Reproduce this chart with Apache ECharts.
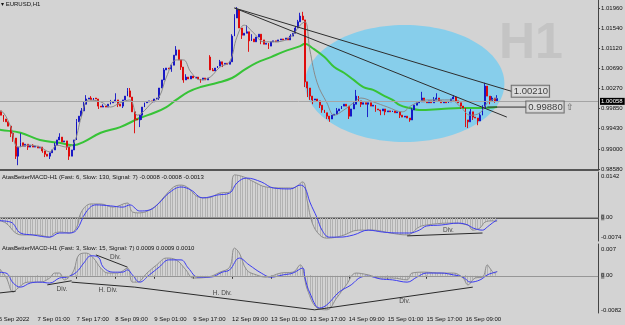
<!DOCTYPE html>
<html>
<head>
<meta charset="utf-8">
<script src="https://cdn.jsdelivr.net/npm/echarts@6/dist/echarts.min.js"></script>
<style>
  html, body { margin: 0; padding: 0; background: #d3d3d3; }
  #chart { width: 625px; height: 325px; }
</style>
</head>
<body>
<div id="chart"></div>
<script>
// EURUSD H1, 6 Sep - 16 Sep 2022, with two AtasBetterMACD panes

const SLOTS = 248; // bar slots on the time axis (empty space right of last bar)
const tickIdx = [1, 17, 33, 49, 65, 81, 97, 113, 129, 145, 161, 177, 193];
const tickText = ['6 Sep 2022', '7 Sep 01:00', '7 Sep 17:00', '8 Sep 09:00', '9 Sep 01:00', '9 Sep 17:00',
  '12 Sep 09:00', '13 Sep 01:00', '13 Sep 17:00', '14 Sep 09:00', '15 Sep 01:00', '15 Sep 17:00', '16 Sep 09:00'];

// closes in pips (price * 10000), one per hourly bar
const closePips = [
  9973, 9980, 9971, 9963, 9957, 9948, 9933, 9923, 9885, 9904,
  9913, 9906, 9910, 9904, 9908, 9904, 9906, 9902, 9904, 9896,
  9889, 9885, 9892, 9898, 9908, 9919, 9925, 9915, 9917, 9904,
  9885, 9898, 9919, 9957, 9969, 9980, 9994, 10005, 10007, 10003,
  10007, 10005, 9990, 9988, 9990, 9988, 9994, 9997, 9999, 10003,
  9994, 9990, 10003, 10011, 10022, 10009, 9978, 9963, 9961, 9971,
  9988, 9997, 9999, 10001, 9999, 10005, 10007, 10028, 10045, 10066,
  10070, 10068, 10076, 10097, 10108, 10087, 10072, 10045, 10051, 10047,
  10053, 10049, 10051, 10047, 10045, 10049, 10045, 10049, 10066, 10064,
  10070, 10074, 10083, 10078, 10080, 10078, 10083, 10137, 10175, 10192,
  10154, 10139, 10143, 10146, 10127, 10131, 10125, 10135, 10141, 10129,
  10120, 10122, 10116, 10125, 10127, 10125, 10129, 10131, 10129, 10133,
  10129, 10137, 10143, 10154, 10167, 10179, 10171, 10041, 10028, 10011,
  10003, 10005, 10001, 9992, 9982, 9976, 9969, 9963, 9971, 9973,
  9980, 9984, 9990, 9994, 9990, 9969, 9984, 9994, 10011, 10001,
  9994, 9997, 9994, 9997, 9990, 9992, 9984, 9982, 9980, 9984,
  9978, 9980, 9978, 9980, 9976, 9978, 9971, 9967, 9969, 9965,
  9961, 9982, 9992, 9997, 9999, 10007, 9999, 9997, 10001, 9997,
  10003, 10007, 10001, 9997, 9999, 9997, 9999, 10005, 10009, 10001,
  9997, 9990, 9986, 9961, 9957, 9978, 9967, 9965, 9959, 9971,
  9986, 10032, 10011, 10001, 10007, 10001, 10005.8
];
// opens follow the previous close except these bars (first bar, Monday gap)
const openFix = [[0, 9978], [88, 10093]];
// visible wicks [bar, pips]
const highFix = [[1, 9986], [10, 9933], [11, 9913], [15, 9910], [24, 9913], [26, 9933], [27, 9925], [33, 9963],
  [35, 9986], [36, 9999], [37, 10013], [39, 10011], [44, 9994], [47, 10003], [49, 10017], [54, 10028],
  [55, 10028], [69, 10070], [74, 10116], [75, 10108], [78, 10057], [81, 10053], [88, 10097], [89, 10070],
  [92, 10087], [97, 10141], [98, 10183], [99, 10198], [103, 10160], [105, 10141], [121, 10141],
  [123, 10158], [124, 10171], [125, 10186], [126, 10188], [140, 9986], [147, 9999], [148, 10024],
  [149, 10011], [171, 9986], [175, 10020], [176, 10005], [180, 10009], [181, 10017], [188, 10013],
  [189, 10007], [195, 9984], [199, 9976], [200, 9992], [201, 10039], [202, 10030], [204, 10011], [206, 10013]];
const lowFix = [[3, 9957], [6, 9925], [7, 9915], [8, 9879], [9, 9866], [13, 9898], [19, 9892], [20, 9883],
  [22, 9879], [29, 9898], [30, 9877], [42, 9984], [50, 9988], [52, 9986], [57, 9933], [59, 9946],
  [60, 9961], [67, 10003], [72, 10062], [76, 10066], [77, 10039], [84, 10039], [93, 10072], [101, 10131],
  [104, 10104], [109, 10120], [112, 10110], [127, 10030], [128, 10009], [129, 10003], [130, 9994],
  [133, 9986], [134, 9976], [136, 9963], [137, 9957], [145, 9963], [150, 9988], [153, 9967], [156, 9978],
  [158, 9971], [160, 9971], [166, 9965], [170, 9957], [191, 9984], [193, 9946], [194, 9944], [196, 9961],
  [198, 9950], [203, 9994], [205, 9997]];

// moving averages [bar, pips]
const maSlow = [[0, 9942], [2, 9940], [10, 9934], [18, 9919], [26, 9913], [32, 9908], [36, 9915], [43, 9934],
  [51, 9946], [59, 9965], [65, 9976], [70, 9988], [74, 10003], [79, 10020], [84, 10030], [91, 10039],
  [97, 10049], [102, 10066], [107, 10081], [113, 10093], [118, 10104], [125, 10116], [127, 10121],
  [130, 10112], [135, 10093], [139, 10072], [143, 10060], [147, 10045], [151, 10030], [155, 10024],
  [159, 10013], [163, 10003], [166, 9992], [170, 9986], [174, 9982], [183, 9984], [191, 9986],
  [199, 9986], [206, 9988]];
const maFast = [[1, 9980], [3, 9976], [6, 9946], [9, 9904], [13, 9908], [18, 9904], [22, 9894], [25, 9908],
  [29, 9904], [32, 9913], [35, 9967], [38, 10003], [43, 9999], [47, 9988], [51, 9997], [55, 10003],
  [58, 9971], [60, 9976], [64, 9997], [67, 10009], [70, 10051], [74, 10087], [77, 10087], [80, 10062],
  [84, 10045], [88, 10051], [92, 10072], [96, 10083], [99, 10135], [102, 10160], [106, 10143],
  [110, 10125], [115, 10125], [121, 10135], [125, 10160], [127, 10167], [129, 10108], [132, 10039],
  [136, 9997], [139, 9971], [143, 9982], [147, 9997], [150, 10007], [155, 9999], [161, 9988],
  [167, 9978], [171, 9992], [177, 10003], [187, 10003], [191, 9988], [195, 9971], [199, 9976],
  [202, 9997], [204, 10003], [206, 10007]];

// chart objects
const lineA = [[98, 1.0196], [212, 1.0021]];
const lineB = [[98, 1.0196], [210, 0.9967]];
const levelLine = [[202, 0.9988], [218, 0.9988]];
const ellipseBox = [127, 1.01603, 209, 0.99147];
const lastPrice = 1.00058;
const priceTicks = [1.0196, 1.0154, 1.0112, 1.0069, 1.0027, 0.9985, 0.9943, 0.9900, 0.9858];

// MACD (6,130,7)
const m1Main = [[0, -0.0010], [6, -0.0015], [10, -0.0049], [15, -0.0055], [22, -0.0062], [26, -0.0049],
  [30, -0.0049], [33, -0.0040], [37, 0.0017], [41, 0.0039], [47, 0.0036], [52, 0.0032], [55, 0.0039],
  [59, 0.0020], [63, 0.0023], [67, 0.0045], [71, 0.0076], [76, 0.0095], [80, 0.0086], [85, 0.0061],
  [91, 0.0070], [96, 0.0076], [99, 0.0108], [103, 0.0123], [109, 0.0111], [114, 0.0092], [121, 0.0089],
  [125, 0.0101], [127, 0.0092], [129, 0.0048], [132, -0.0002], [134, -0.0040], [137, -0.0062],
  [141, -0.0062], [147, -0.0055], [153, -0.0040], [159, -0.0046], [166, -0.0049], [170, -0.0049],
  [174, -0.0040], [177, -0.0027], [183, -0.0024], [190, -0.0018], [194, -0.0024], [196, -0.0033],
  [200, -0.0040], [202, -0.0030], [204, -0.0018], [206, -0.0008]];
const m1Signal = [[0, -0.0008], [4, -0.0018], [8, -0.0049], [11, -0.0055], [17, -0.0055], [22, -0.0062],
  [24, -0.0049], [27, -0.0046], [30, -0.0049], [33, -0.0033], [35, 0.0017], [39, 0.0042], [43, 0.0042],
  [48, 0.0032], [54, 0.0045], [56, 0.0017], [59, 0.0014], [65, 0.0032], [69, 0.0064], [73, 0.0095],
  [76, 0.0101], [79, 0.0092], [83, 0.0064], [87, 0.0061], [92, 0.0076], [96, 0.0079], [98, 0.0133],
  [102, 0.0126], [106, 0.0111], [111, 0.0095], [118, 0.0092], [122, 0.0092], [126, 0.0111],
  [128, 0.0048], [130, -0.0018], [133, -0.0055], [136, -0.0065], [142, -0.0058], [149, -0.0040],
  [155, -0.0040], [162, -0.0049], [169, -0.0055], [174, -0.0030], [177, -0.0024], [186, -0.0018],
  [194, -0.0024], [196, -0.0040], [199, -0.0033], [201, -0.0015], [204, -0.0011], [206, -0.0013]];
const m1Div = [[[169, -0.0058], [200, -0.0049]]];
const m1DivText = [['Div.', 186, -0.0040]];

// MACD (3,15,7)
const m2Main = [[0, 0.0008], [4, 0.0006], [7, -0.0016], [10, -0.0025], [14, -0.0016], [18, -0.0014],
  [22, -0.0016], [26, -0.0005], [29, -0.0003], [33, 0.0008], [36, 0.0028], [39, 0.0044], [42, 0.0041],
  [44, 0.0019], [48, 0.0008], [52, 0.0008], [54, 0.0013], [56, 0.0002], [59, -0.0014], [63, 0.0002],
  [67, 0.0019], [71, 0.0035], [76, 0.0035], [79, 0.0017], [83, -0.0003], [88, -0.0003], [93, 0.0008],
  [96, 0.0013], [100, 0.0039], [104, 0.0024], [109, 0.0006], [113, -0.0003], [118, 0.0002],
  [122, 0.0006], [126, 0.0017], [127, -0.0005], [129, -0.0038], [133, -0.0071], [136, -0.0064],
  [141, -0.0036], [146, -0.0020], [150, -0.0003], [153, -0.0001], [158, -0.0007], [163, -0.0009],
  [169, -0.0014], [173, -0.0003], [177, 0.0006], [183, 0.0006], [188, 0.0002], [192, -0.0003],
  [195, -0.0014], [199, -0.0009], [202, 0.0002], [204, 0.0006], [206, 0.0009]];
const m2Signal = [[0, 0.0024], [4, -0.0003], [7, -0.0036], [9, -0.0027], [13, -0.0014], [18, -0.0014],
  [22, -0.0005], [24, 0.0006], [26, 0.0006], [28, -0.0009], [30, -0.0003], [32, 0.0013], [34, 0.0046],
  [37, 0.0050], [40, 0.0039], [43, 0.0017], [46, 0.0006], [50, 0.0006], [54, 0.0017], [56, -0.0014],
  [58, -0.0014], [62, 0.0006], [66, 0.0024], [70, 0.0039], [74, 0.0035], [78, 0.0013], [81, -0.0005],
  [87, -0.0003], [92, 0.0008], [96, 0.0019], [98, 0.0061], [100, 0.0050], [103, 0.0013], [107, 0.0002],
  [111, -0.0003], [117, 0.0006], [122, 0.0008], [125, 0.0024], [128, -0.0031], [132, -0.0071],
  [136, -0.0075], [140, -0.0049], [144, -0.0020], [148, 0.0006], [153, 0.0002], [158, -0.0005],
  [163, -0.0005], [169, -0.0009], [171, 0.0006], [176, 0.0008], [183, 0.0006], [188, 0.0006],
  [192, -0.0005], [194, -0.0020], [197, -0.0005], [200, -0.0003], [202, 0.0024], [203, 0.0017],
  [205, 0.0006], [206, 0.0010]];
const m2Div = [
  [[1, -0.0038], [8, -0.0034]],
  [[21, -0.0020], [31, -0.0011]],
  [[41, 0.0046], [54, 0.0019]],
  [[31, -0.0014], [57, -0.0025]],
  [[57, -0.0025], [131, -0.0075]],
  [[131, -0.0075], [196, -0.0025]]
];
const m2DivText = [['Div.', 27, -0.0029], ['Div.', 49, 0.0041], ['H. Div.', 46, -0.0031],
  ['H. Div.', 93, -0.0038], ['Div.', 168, -0.0056]];

const FONT = '"Liberation Sans", Arial, sans-serif';
const BULL = '#1010c4';
const BEAR = '#e00000';
const BLUE = '#3c3cf0';
const SIG = '#8e8e8e';

// build candles [open, close, low, high]
const lookup = (list, i) => { const f = list.find(d => d[0] === i); return f ? f[1] : null; };
const candles = closePips.map((c, i) => {
  let o = i ? closePips[i - 1] : c;
  const of = lookup(openFix, i);
  if (of !== null) o = of;
  const hf = lookup(highFix, i), lf = lookup(lowFix, i);
  const hi = hf !== null ? hf : Math.max(o, c);
  const lo = lf !== null ? lf : Math.min(o, c);
  return [o / 10000, c / 10000, lo / 10000, hi / 10000];
});
const toPrice = arr => arr.map(d => [d[0], d[1] / 10000]);

const slots = Array.from({ length: SLOTS }, (_, i) => String(i));
const isTick = i => tickIdx.includes(i);

// hatch pattern for the MACD histograms
const hatch = document.createElement('canvas');
hatch.width = 5; hatch.height = 1;
const hctx = hatch.getContext('2d');
hctx.fillStyle = '#b2b2b2';
hctx.fillRect(0, 0, 1, 1);
hctx.fillRect(2, 0, 1, 1);

function timeAxis(gridIndex, showLabels, lineWidth) {
  return {
    type: 'category', gridIndex, data: slots, boundaryGap: true,
    axisLine: { show: true, lineStyle: { color: '#555', width: lineWidth } },
    axisTick: { show: showLabels, interval: i => isTick(i), alignWithLabel: true, length: 3, lineStyle: { color: '#333' } },
    axisLabel: {
      show: showLabels, interval: i => isTick(i), align: 'left', margin: 3,
      formatter: (v, i) => tickText[tickIdx.indexOf(Number(v))] || '',
      fontSize: 6, color: '#111', fontFamily: FONT
    },
    splitLine: { show: false }
  };
}

// sub-window labels: top label hangs below the top edge, bottom label sits above the bottom edge
function paneAxis(gridIndex, min, max, h, texts, vals, padTop, padBottom) {
  const perPx = (max - min) / h;
  const pos = vals.map(v => v === max ? v - padTop * perPx : (v === min ? v + padBottom * perPx : v));
  return {
    type: 'value', gridIndex, position: 'right', min, max,
    axisLine: { show: true, lineStyle: { color: '#444' } },
    axisTick: { show: false },
    splitLine: { show: false },
    axisLabel: {
      customValues: pos, margin: 3, fontSize: 6, color: '#111', fontFamily: FONT,
      formatter: v => {
        const k = pos.findIndex(p => Math.abs(p - v) < 1e-9);
        const t = texts[k] || '';
        return t === '0.00' ? '{z|0}{n|.00}' : t;
      },
      rich: {
        z: { backgroundColor: '#8a8a8a', color: '#333', fontSize: 6, fontFamily: FONT },
        n: { color: '#111', fontSize: 6, fontFamily: FONT }
      }
    }
  };
}

function divSeries(segs, xi) {
  return segs.map(seg => ({
    type: 'line', xAxisIndex: xi, yAxisIndex: xi, data: seg, showSymbol: false, silent: true,
    lineStyle: { color: '#2a2a2a', width: 1 }, z: 5
  }));
}
function textSeries(items, xi) {
  return {
    type: 'scatter', xAxisIndex: xi, yAxisIndex: xi, symbolSize: 0.1, silent: true, z: 6,
    data: items.map(d => ({ value: [d[1], d[2]], name: d[0] })),
    label: { show: true, position: 'inside', formatter: p => p.name, color: '#222', fontSize: 6.5, fontFamily: FONT }
  };
}

const chart = echarts.init(document.getElementById('chart'), null, { renderer: 'canvas' });

chart.setOption({
  animation: false,
  backgroundColor: '#d3d3d3',
  title: [
    { text: '\u25BE EURUSD,H1', left: 1, top: 1, padding: 0, textStyle: { fontSize: 6, fontWeight: 'normal', color: '#111', fontFamily: FONT } },
    { text: 'AtasBetterMACD-H1 (Fast: 6, Slow: 130, Signal: 7) -0.0008 -0.0008 -0.0013', left: 2, top: 174, padding: 0,
      textStyle: { fontSize: 6, fontWeight: 'normal', color: '#111', fontFamily: FONT } },
    { text: 'AtasBetterMACD-H1 (Fast: 3, Slow: 15, Signal: 7) 0.0009 0.0009 0.0010', left: 2, top: 245, padding: 0,
      textStyle: { fontSize: 6, fontWeight: 'normal', color: '#111', fontFamily: FONT } }
  ],
  graphic: [
    { type: 'text', left: 499, top: 19, z: 0, silent: true,
      style: { text: 'H1', font: 'bold 50px "Liberation Sans", Arial, sans-serif', fill: '#c4c4c4' } }
  ],
  grid: [
    { left: -5, top: 0, width: 603, height: 170, containLabel: false, outerBoundsMode: 'none' },
    { left: -5, top: 172, width: 603, height: 69, containLabel: false, outerBoundsMode: 'none' },
    { left: -5, top: 244, width: 603, height: 69, containLabel: false, outerBoundsMode: 'none' }
  ],
  xAxis: [timeAxis(0, false, 2), timeAxis(1, false, 2), timeAxis(2, true, 1)],
  yAxis: [
    {
      type: 'value', gridIndex: 0, position: 'right', min: 0.98559, max: 1.02128,
      axisLine: { show: true, lineStyle: { color: '#444' } },
      axisTick: { show: true, customValues: priceTicks, length: 2, lineStyle: { color: '#444' } },
      axisLabel: { customValues: priceTicks, formatter: v => v.toFixed(5), margin: 3, fontSize: 6, color: '#111', fontFamily: FONT },
      splitLine: { show: false }
    },
    paneAxis(1, -0.0074, 0.0142, 69, ['0.0142', '0.00', '-0.0074'], [0.0142, 0, -0.0074], 4, 4),
    paneAxis(2, -0.0082, 0.007, 69, ['0.007', '0.00', '-0.0082'], [0.007, 0, -0.0082], 5, 3)
  ],
  series: [
    {
      type: 'custom', xAxisIndex: 0, yAxisIndex: 0, z: 1, silent: true,
      data: [ellipseBox], encode: { x: [0, 2], y: [1, 3] },
      renderItem: (params, api) => {
        const a = api.coord([api.value(0), api.value(1)]);
        const b = api.coord([api.value(2), api.value(3)]);
        return {
          type: 'ellipse',
          shape: { cx: (a[0] + b[0]) / 2, cy: (a[1] + b[1]) / 2, rx: (b[0] - a[0]) / 2, ry: (b[1] - a[1]) / 2 },
          style: { fill: '#87ceeb' }
        };
      }
    },
    {
      type: 'candlestick', xAxisIndex: 0, yAxisIndex: 0, data: candles, barWidth: 1.4, silent: true, z: 3,
      itemStyle: { color: BULL, color0: BEAR, borderColor: BULL, borderColor0: BEAR, borderWidth: 0.9 },
      markLine: {
        silent: true, symbol: ['none', 'none'],
        lineStyle: { color: '#a4a4a4', type: 'solid', width: 1 },
        label: {
          show: true, position: 'end', distance: 2, formatter: lastPrice.toFixed(5),
          backgroundColor: '#000', color: '#fff', padding: [1, 2, 0, 1], fontSize: 6, fontFamily: FONT
        },
        data: [{ yAxis: lastPrice }]
      }
    },
    {
      type: 'line', xAxisIndex: 0, yAxisIndex: 0, data: toPrice(maSlow), smooth: 0.4, showSymbol: false, silent: true, z: 2,
      lineStyle: { color: '#37c337', width: 2 }
    },
    {
      type: 'line', xAxisIndex: 0, yAxisIndex: 0, data: toPrice(maFast), smooth: 0.4, showSymbol: false, silent: true, z: 4,
      lineStyle: { color: '#8a8a8a', width: 1 }
    },
    ...[lineA, lineB, levelLine].map(d => ({
      type: 'line', xAxisIndex: 0, yAxisIndex: 0, data: d, showSymbol: false, silent: true, z: 5,
      lineStyle: { color: '#2e2e2e', width: 1 }
    })),
    {
      type: 'scatter', xAxisIndex: 0, yAxisIndex: 0, symbolSize: 0.1, silent: true, z: 6,
      data: [
        { value: lineA[1], name: lineA[1][1].toFixed(5) },
        { value: levelLine[1], name: levelLine[1][1].toFixed(5) }
      ],
      label: {
        show: true, position: 'right', distance: 0,
        formatter: p => p.dataIndex === 1 ? '{b|' + p.name + '}{a| \u21E7}' : '{b|' + p.name + '}',
        rich: {
          b: { fontSize: 9.5, fontFamily: FONT, color: '#111', backgroundColor: '#dedede', borderColor: '#555', borderWidth: 1, padding: [1, 1, 0, 2] },
          a: { fontSize: 9, fontFamily: FONT, color: '#444' }
        }
      }
    },
    // MACD 6/130/7
    {
      type: 'line', xAxisIndex: 1, yAxisIndex: 1, data: m1Signal, smooth: 0.4, showSymbol: false, silent: true,
      lineStyle: { color: SIG, width: 1 }, areaStyle: { color: { image: hatch, repeat: 'repeat' }, opacity: 1 }
    },
    {
      type: 'line', xAxisIndex: 1, yAxisIndex: 1, data: m1Main, smooth: 0.4, showSymbol: false, silent: true, z: 4,
      lineStyle: { color: BLUE, width: 1 },
      markLine: { silent: true, symbol: ['none', 'none'], label: { show: false }, lineStyle: { color: '#969696', type: 'solid', width: 1 }, data: [{ yAxis: 0 }] }
    },
    ...divSeries(m1Div, 1),
    textSeries(m1DivText, 1),
    // MACD 3/15/7
    {
      type: 'line', xAxisIndex: 2, yAxisIndex: 2, data: m2Signal, smooth: 0.4, showSymbol: false, silent: true,
      lineStyle: { color: SIG, width: 1 }, areaStyle: { color: { image: hatch, repeat: 'repeat' }, opacity: 1 }
    },
    {
      type: 'line', xAxisIndex: 2, yAxisIndex: 2, data: m2Main, smooth: 0.4, showSymbol: false, silent: true, z: 4,
      lineStyle: { color: BLUE, width: 1 },
      markLine: { silent: true, symbol: ['none', 'none'], label: { show: false }, lineStyle: { color: '#969696', type: 'solid', width: 1 }, data: [{ yAxis: 0 }] }
    },
    ...divSeries(m2Div, 2),
    textSeries(m2DivText, 2)
  ]
});
</script>
</body>
</html>
